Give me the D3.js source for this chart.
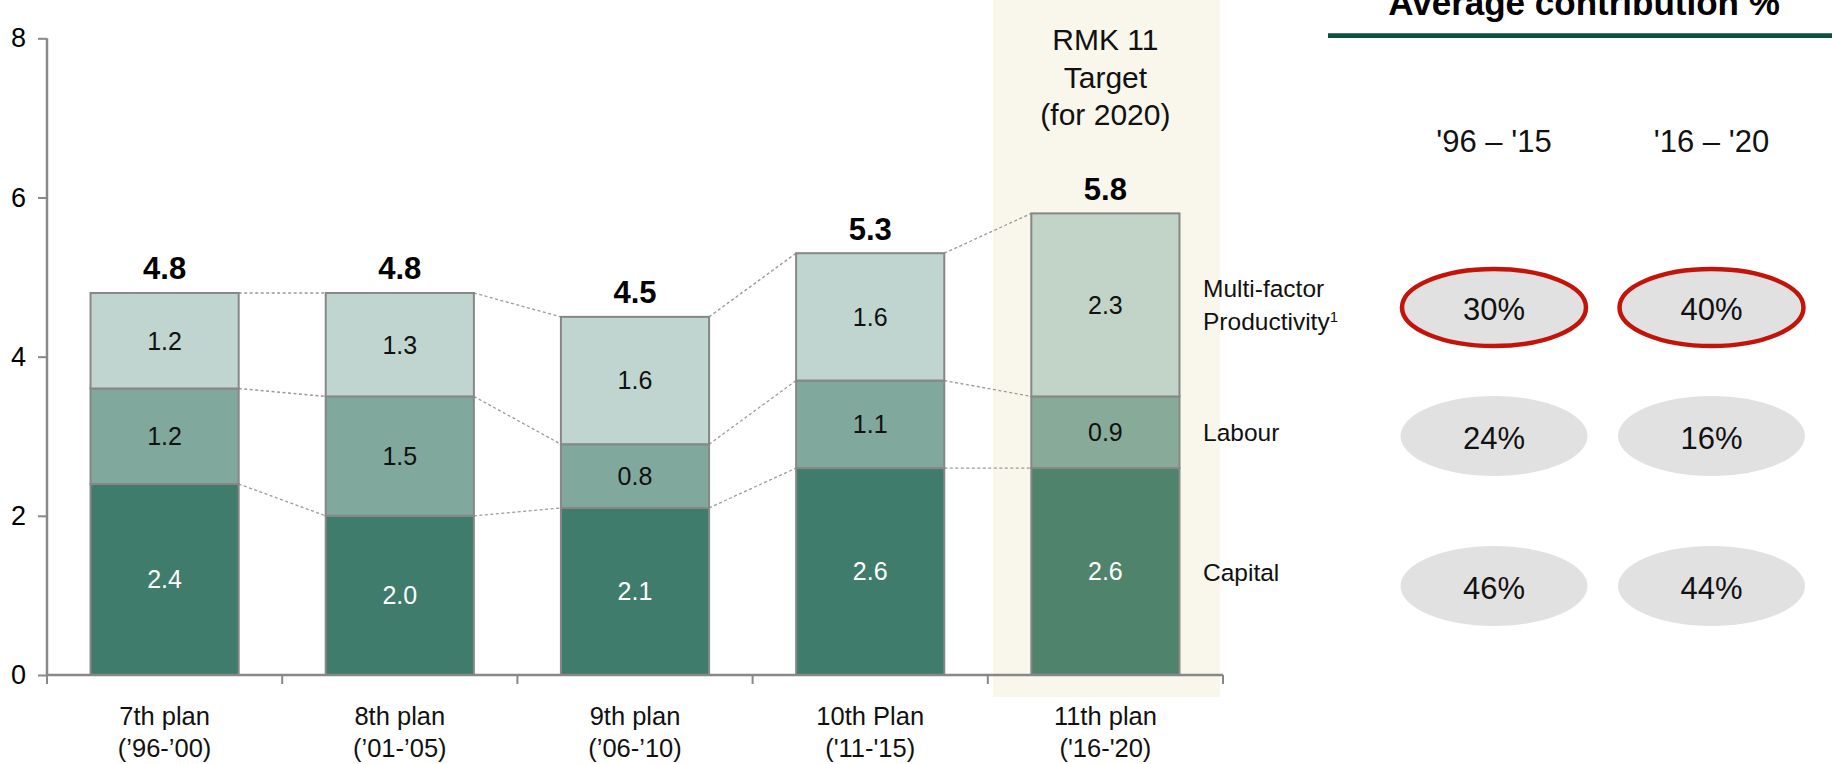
<!DOCTYPE html>
<html>
<head>
<meta charset="utf-8">
<script src="https://cdn.jsdelivr.net/npm/d3@7"></script>
<style>
  html, body { margin: 0; padding: 0; background: #ffffff; }
  svg { display: block; font-family: "Liberation Sans", Arial, Helvetica, sans-serif; }
</style>
</head>
<body>
<svg id="chart" width="1832" height="764"></svg>
<script>
// Growth decomposition by Malaysia Plan (percentage points)
const plans = ["7th plan", "8th plan", "9th plan", "10th Plan", "11th plan"];
const planYears = ["(\u201996-\u201900)", "(\u201901-\u201905)", "(\u201906-\u201910)", "('11-'15)", "('16-'20)"];
const capital = [2.4, 2.0, 2.1, 2.6, 2.6];
const labour = [1.2, 1.5, 0.8, 1.1, 0.9];
const mfp = [1.2, 1.3, 1.6, 1.6, 2.3];
const totals = [4.8, 4.8, 4.5, 5.3, 5.8];
const yTicks = [0, 2, 4, 6, 8];
const targetPlan = "11th plan";
const targetNote = ["RMK 11", "Target", "(for 2020)"];

// Average contribution table
const periods = ["'96 \u2013 '15", "'16 \u2013 '20"];
const shareMfp = [30, 40];
const shareLabour = [24, 16];
const shareCapital = [46, 44];
const componentNames = ["Capital", "Labour", "Multi-factor Productivity"];

const svg = d3.select("#chart");
const W = 1832, H = 764;

const x = d3.scaleBand().domain(plans).range([47, 1223]).paddingInner(0.37).paddingOuter(0.185);
const y = d3.scaleLinear().domain([0, 8]).range([675, 38.3]);

const palette = { Capital: "#407c6c", Labour: "#80a89c", "Multi-factor Productivity": "#c0d5cf" };
const paletteTarget = { Capital: "#50836c", Labour: "#88aa98", "Multi-factor Productivity": "#c2d4c7" };

// Highlight band behind the target plan
const step = x.step();
svg.append("rect")
  .attr("x", x(targetPlan) - (step - x.bandwidth()) / 2 + 5)
  .attr("y", 0)
  .attr("width", step - 8)
  .attr("height", 697)
  .attr("fill", "#f9f7ec");

// Stack the three components
const rows = plans.map((p, i) => ({ plan: p, Capital: capital[i], Labour: labour[i], "Multi-factor Productivity": mfp[i] }));
const stack = d3.stack().keys(componentNames)(rows);

// Dotted connectors between neighbouring bars at each stack boundary
const conn = svg.append("g").attr("stroke", "#9a9a9a").attr("stroke-width", 1.3).attr("stroke-dasharray", "3,2.5").attr("fill", "none");
stack.forEach(layer => {
  for (let i = 0; i < plans.length - 1; i++) {
    conn.append("line")
      .attr("x1", x(plans[i]) + x.bandwidth())
      .attr("y1", y(layer[i][1]))
      .attr("x2", x(plans[i + 1]))
      .attr("y2", y(layer[i + 1][1]));
  }
});

// Bars
const barG = svg.append("g");
stack.forEach(layer => {
  const key = layer.key;
  barG.selectAll(null).data(layer).join("rect")
    .attr("x", d => x(d.data.plan))
    .attr("y", d => y(d[1]))
    .attr("width", x.bandwidth())
    .attr("height", d => y(d[0]) - y(d[1]))
    .attr("fill", d => d.data.plan === targetPlan ? paletteTarget[key] : palette[key])
    .attr("stroke", "#878787")
    .attr("stroke-width", 2);
});

// Segment labels
stack.forEach(layer => {
  const key = layer.key;
  barG.selectAll(null).data(layer).join("text")
    .attr("x", d => x(d.data.plan) + x.bandwidth() / 2)
    .attr("y", d => (y(d[0]) + y(d[1])) / 2 + 8.8)
    .attr("text-anchor", "middle")
    .attr("font-size", 25)
    .attr("fill", key === "Capital" ? "#ffffff" : "#111111")
    .text(d => d3.format(".1f")(d.data[key]));
});

// Totals above bars
svg.append("g").selectAll("text").data(plans).join("text")
  .attr("x", d => x(d) + x.bandwidth() / 2)
  .attr("y", (d, i) => y(totals[i]) - 13.5)
  .attr("text-anchor", "middle")
  .attr("font-size", 31)
  .attr("font-weight", "bold")
  .attr("fill", "#000")
  .text((d, i) => d3.format(".1f")(totals[i]));

// Target note
svg.append("g").selectAll("text").data(targetNote).join("text")
  .attr("x", x(targetPlan) + x.bandwidth() / 2)
  .attr("y", (d, i) => 50 + i * 37.5)
  .attr("text-anchor", "middle")
  .attr("font-size", 30)
  .attr("fill", "#111")
  .text(d => d);

// Y axis
const yAxis = svg.append("g").attr("transform", "translate(47,0)")
  .call(d3.axisLeft(y).tickValues(yTicks).tickSize(9).tickPadding(12).tickFormat(d3.format("d")));
yAxis.select(".domain").attr("stroke", "#888").attr("stroke-width", 2.5).attr("d", `M0,${y(8)}V${y(0)}`);
yAxis.selectAll(".tick line").attr("stroke", "#888").attr("stroke-width", 2);
yAxis.selectAll(".tick text").attr("font-size", 27).attr("fill", "#000").attr("font-family", "Liberation Sans, Arial, sans-serif");

// X axis with ticks at band boundaries
const xr = x.range();
const xAxisG = svg.append("g");
xAxisG.append("line").attr("x1", xr[0]).attr("x2", xr[1]).attr("y1", y(0)).attr("y2", y(0))
  .attr("stroke", "#888").attr("stroke-width", 2.5);
const bounds = d3.range(plans.length + 1).map(i => xr[0] + i * step);
xAxisG.selectAll("line.tk").data(bounds).join("line").attr("class", "tk")
  .attr("x1", d => d).attr("x2", d => d).attr("y1", y(0)).attr("y2", y(0) + 9)
  .attr("stroke", "#888").attr("stroke-width", 2);

const cat = svg.append("g").selectAll("text").data(plans).join("text")
  .attr("x", d => x(d) + x.bandwidth() / 2)
  .attr("text-anchor", "middle")
  .attr("font-size", 25.5)
  .attr("fill", "#111");
cat.append("tspan").attr("x", d => x(d) + x.bandwidth() / 2).attr("y", 725).text(d => d);
cat.append("tspan").attr("x", d => x(d) + x.bandwidth() / 2).attr("y", 757).text((d, i) => planYears[i]);

// Component legend next to the target bar
const legX = 1203;
const leg = svg.append("g").attr("font-size", 24.5).attr("fill", "#111");
leg.append("text").attr("x", legX).attr("y", 297).text("Multi-factor");
const prod = leg.append("text").attr("x", legX).attr("y", 330);
prod.append("tspan").text("Productivity");
prod.append("tspan").attr("font-size", 15).attr("dy", -8).text("1");
leg.append("text").attr("x", legX).attr("y", 441).text("Labour");
leg.append("text").attr("x", legX).attr("y", 581).text("Capital");

// Average contribution panel
svg.append("text").attr("x", 1584).attr("y", 15).attr("text-anchor", "middle")
  .attr("font-size", 35).attr("font-weight", "bold").attr("fill", "#000")
  .text("Average contribution %");
svg.append("line").attr("x1", 1328).attr("x2", W).attr("y1", 35.7).attr("y2", 35.7)
  .attr("stroke", "#0b5040").attr("stroke-width", 4.7);

const colX = d3.scalePoint().domain(periods).range([1494, 1711.5]);
svg.append("g").selectAll("text").data(periods).join("text")
  .attr("x", d => colX(d)).attr("y", 151.5)
  .attr("text-anchor", "middle").attr("font-size", 31).attr("fill", "#111")
  .text(d => d);

const shareRows = [
  { values: shareMfp, cy: 307.5, highlight: true },
  { values: shareLabour, cy: 436, highlight: false },
  { values: shareCapital, cy: 586, highlight: false }
];
const cells = svg.append("g");
shareRows.forEach(r => {
  r.values.forEach((v, j) => {
    const cx = colX(periods[j]);
    cells.append("ellipse")
      .attr("cx", cx).attr("cy", r.cy)
      .attr("rx", r.highlight ? 92 : 93.5).attr("ry", r.highlight ? 38.5 : 40)
      .attr("fill", "#e1e1e1")
      .attr("stroke", r.highlight ? "#c3140a" : "none")
      .attr("stroke-width", r.highlight ? 4.5 : 0);
    cells.append("text")
      .attr("x", cx).attr("y", r.cy + 12.5)
      .attr("text-anchor", "middle").attr("font-size", 31).attr("fill", "#111")
      .text(v + "%");
  });
});
</script>
</body>
</html>
